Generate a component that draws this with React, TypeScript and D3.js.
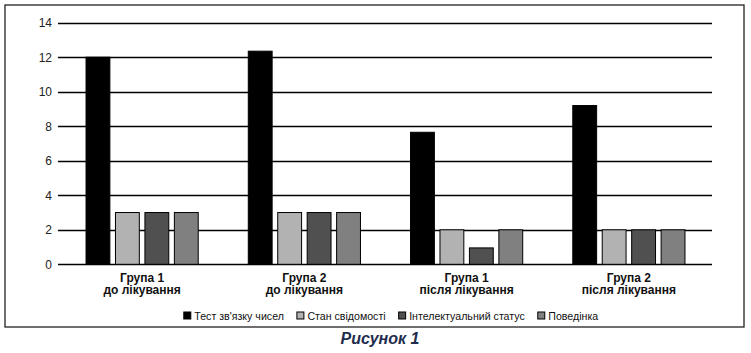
import React, { useEffect, useRef } from "react";
import * as d3 from "d3";

const groups = ["Група 1|до лікування", "Група 2|до лікування", "Група 1|після лікування", "Група 2|після лікування"];
const seriesNames = ["Тест зв'язку чисел", "Стан свідомості", "Інтелектуальний статус", "Поведінка"];
const seriesColors = ["#000000", "#b2b2b2", "#505050", "#808080"];
const testValues = [12.0, 12.35, 7.65, 9.2];
const consciousValues = [3, 3, 2, 2];
const intellectValues = [3, 3, 0.95, 2];
const behaviourValues = [3, 3, 2, 2];
const yTicks = [0, 2, 4, 6, 8, 10, 12, 14];
const caption = "Рисунок 1";

const W = 751;
const H = 353;

export default function App() {
  const ref = useRef<SVGSVGElement>(null);
  useEffect(() => {
    const svg = d3.select(ref.current);
    svg.selectAll("*").remove();
    const values = [testValues, consciousValues, intellectValues, behaviourValues];

    // frame
    svg.append("rect").attr("x", 5).attr("y", 5).attr("width", 739).attr("height", 322)
      .attr("fill", "#fff").attr("stroke", "#222").attr("stroke-width", 1.3);

    const y = d3.scaleLinear().domain([0, 14]).range([264.3, 22.7]);
    const x0 = d3.scaleBand<string>().domain(groups).range([61, 710]).padding(0);
    const x1 = d3.scaleBand<number>().domain(d3.range(seriesNames.length))
      .range([0, x0.bandwidth()]).paddingInner(0.19).paddingOuter(0.85);

    const g = svg.append("g");
    g.selectAll("line.grid").data(yTicks).join("line")
      .attr("x1", 58).attr("x2", 712)
      .attr("y1", d => Math.round(y(d)) + 0.5).attr("y2", d => Math.round(y(d)) + 0.5)
      .attr("stroke", "#000").attr("stroke-width", 1.3);
    g.selectAll("text.tick").data(yTicks).join("text")
      .attr("x", 52).attr("y", d => y(d) + 4.5)
      .attr("text-anchor", "end")
      .attr("font-family", "Arial, 'Liberation Sans', sans-serif")
      .attr("font-size", 12).attr("fill", "#222")
      .text(d => String(d));

    groups.forEach((grp, gi) => {
      seriesNames.forEach((_, si) => {
        const v = values[si][gi];
        const bx = (x0(grp) as number) + (x1(si) as number);
        g.append("rect")
          .attr("x", bx).attr("y", y(v))
          .attr("width", x1.bandwidth()).attr("height", y(0) - y(v))
          .attr("fill", seriesColors[si]).attr("stroke", "#000").attr("stroke-width", 1);
      });
      const lines = grp.split("|");
      const cx = (x0(grp) as number) + x0.bandwidth() / 2;
      lines.forEach((ln, li) => {
        g.append("text").attr("x", cx).attr("y", 282 + li * 11.8)
          .attr("text-anchor", "middle")
          .attr("font-family", "Arial, 'Liberation Sans', sans-serif")
          .attr("font-weight", "bold").attr("font-size", 12).attr("fill", "#111")
          .text(ln);
      });
    });

    // legend
    const lg = svg.append("g");
    const texts: any[] = [];
    const widths: number[] = [];
    seriesNames.forEach((n) => {
      const t = lg.append("text")
        .attr("font-family", "Arial, 'Liberation Sans', sans-serif")
        .attr("font-size", 11).attr("fill", "#111").attr("y", 319.5).text(n);
      const w = (t.node() as SVGTextElement).getComputedTextLength() * 0.965;
      t.attr("textLength", w).attr("lengthAdjust", "spacingAndGlyphs");
      texts.push(t);
      widths.push(w);
    });
    const sq = 7, gapT = 3.5, gapI = 13;
    const total = d3.sum(widths) + seriesNames.length * (sq + gapT) + (seriesNames.length - 1) * gapI;
    let cur = 391 - total / 2;
    seriesNames.forEach((_, i) => {
      lg.append("rect").attr("x", cur).attr("y", 312).attr("width", sq).attr("height", sq)
        .attr("fill", seriesColors[i]).attr("stroke", "#000").attr("stroke-width", 1);
      texts[i].attr("x", cur + sq + gapT);
      cur += sq + gapT + widths[i] + gapI;
    });

    svg.append("text").attr("x", 380).attr("y", 344)
      .attr("text-anchor", "middle")
      .attr("font-family", "Arial, 'Liberation Sans', sans-serif")
      .attr("font-weight", "bold").attr("font-style", "italic").attr("font-size", 16)
      .attr("fill", "#1f2d4d").text(caption);
  }, []);

  return (
    <div style={{ position: "absolute", left: 0, top: 0 }}>
      <svg ref={ref} width={W} height={H} style={{ display: "block", background: "#fff" }} />
    </div>
  );
}
